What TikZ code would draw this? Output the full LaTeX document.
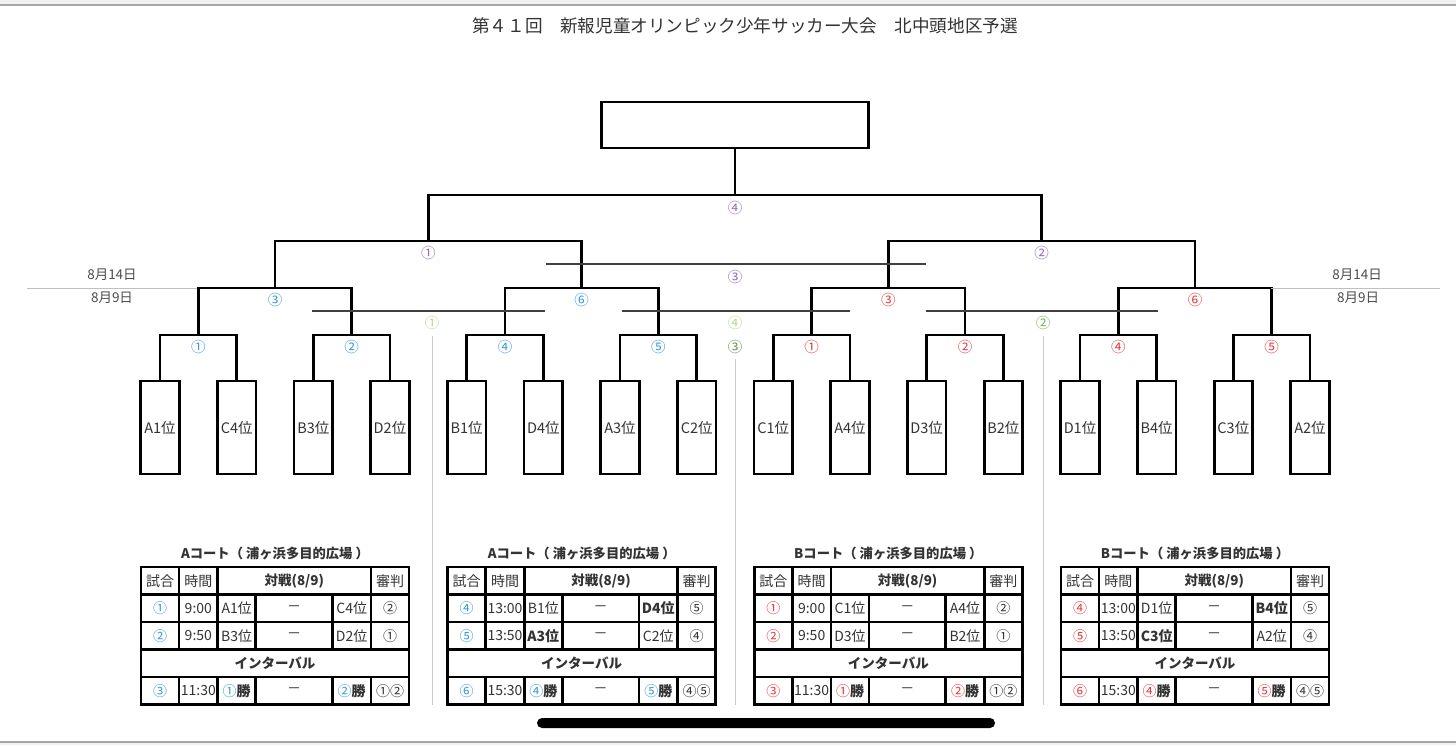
\documentclass[tikz,border=0pt]{standalone}
\usepackage{fontspec}
\setmainfont{Noto Sans CJK JP}
\usetikzlibrary{calc}

\definecolor{courtA}{HTML}{3A9AD9}
\definecolor{courtB}{HTML}{E8383D}
\definecolor{finals}{HTML}{8E6BBF}
\definecolor{placeP}{HTML}{B8D88E}
\definecolor{placeM}{HTML}{7DB356}
\definecolor{placeD}{HTML}{6A9050}
\definecolor{ink}{HTML}{333333}

\def\gap{76.667}

\tikzset{
  bracket/.style={line width=2.8pt, line join=miter},
  teambox/.style={draw, line width=2.8pt, minimum width=38.5pt, minimum height=93pt, inner sep=0pt, text=ink, font=\fontsize{14.5}{15}\selectfont},
  champbox/.style={draw, line width=2.8pt, minimum width=267pt, minimum height=46pt},
  gameno/.style={inner sep=0pt, font=\fontsize{14.5}{15}\selectfont},
  minorline/.style={line width=1.4pt, draw=black!75},
  sepline/.style={line width=0.8pt, draw=black!20},
  dateline/.style={line width=0.9pt, draw=black!25},
  datetext/.style={inner sep=0pt, text=black!70, font=\fontsize{13.5}{14}\selectfont},
  tableline/.style={line width=2.4pt, line cap=rect},
  cell/.style={inner sep=0pt, text=ink, font=\fontsize{14}{14}\selectfont},
  boldcell/.style={cell, font=\bfseries\fontsize{13.5}{14}\selectfont},
  tabletitle/.style={inner sep=0pt, text=ink, font=\bfseries\fontsize{13.3}{14}\selectfont},
}

% grid of one court table, local coordinates
\newcommand{\fixturegrid}{%
  \draw[tableline] (0,567) rectangle (268,704.5);
  \foreach \yy in {594.5,622,649.5,677}
    \draw[tableline] (0,\yy) -- (268,\yy);
  \foreach \xx in {38,76.67,230}
    \draw[tableline] (\xx,567) -- (\xx,649.5) (\xx,677) -- (\xx,704.5);
  \foreach \xx in {114.67,191.33}
    \draw[tableline] (\xx,594.5) -- (\xx,649.5) (\xx,677) -- (\xx,704.5);
}
\newcommand{\fixturehead}[2]{%
  \node[tabletitle] (#1-title) at (134,553) {#2};
  \node[cell] (#1-h1) at (19,580.75) {試合};
  \node[cell] (#1-h2) at (57.33,580.75) {時間};
  \node[boldcell] (#1-h3) at (153.33,580.75) {対戦(8/9)};
  \node[cell] (#1-h4) at (249,580.75) {審判};
  \node[boldcell] (#1-int) at (134,663.25) {インターバル};
}
% prefix, y, colour, game, time, home, away, referee
\newcommand{\gamerow}[8]{%
  \node[cell, text=#3] (#1-no) at (19,#2) {#4};
  \node[cell] (#1-time) at (57.33,#2) {#5};
  \node[cell] (#1-home) at (95.67,#2) {#6};
  \node[cell] (#1-vs) at (153,#2) {－};
  \node[cell] (#1-away) at (210.67,#2) {#7};
  \node[cell] (#1-ref) at (249,#2) {#8};
}

\begin{document}
\begin{tikzpicture}[x=1pt, y=-1pt]
\useasboundingbox (0,0) rectangle (1456,745);
\fill[white] (0,0) rectangle (1456,745);
\fill[black!5] (0,0) rectangle (1456,5);
\fill[black!5] (0,742) rectangle (1456,745);
\draw[black!35, line width=1.2pt] (0,5) -- (1456,5);
\draw[black!35, line width=1.2pt] (0,742) -- (1456,742);

\node[text=ink, font=\fontsize{17.6}{18}\selectfont] (title) at (745,26) {第４１回　新報児童オリンピック少年サッカー大会　北中頭地区予選};

% teams and winner box
\foreach \t [count=\i from 0] in {A1位,C4位,B3位,D2位,B1位,D4位,A3位,C2位,C1位,A4位,D3位,B2位,D1位,B4位,C3位,A2位}
  \node[teambox] (t\i) at ({160+\i*\gap},427.5) {\t};
\node[champbox] (champ) at (735,125) {};

% first round
\foreach \c/\n [count=\j from 0] in {courtA/①,courtA/②,courtA/④,courtA/⑤,courtB/①,courtB/②,courtB/④,courtB/⑤}
{
  \pgfmathtruncatemacro\ia{2*\j}
  \pgfmathtruncatemacro\ib{2*\j+1}
  \coordinate (r1-\j) at ({198.333+2*\gap*\j},335);
  \draw[bracket] (t\ia.north) |- (r1-\j) -| (t\ib.north);
  \node[gameno, text=\c] (g1-\j) at ({198.333+2*\gap*\j},347) {\n};
}

% second round
\foreach \c/\n [count=\k from 0] in {courtA/③,courtA/⑥,courtB/③,courtB/⑥}
{
  \pgfmathtruncatemacro\ia{2*\k}
  \pgfmathtruncatemacro\ib{2*\k+1}
  \coordinate (r2-\k) at ({275+4*\gap*\k},288);
  \draw[bracket] (r1-\ia) |- (r2-\k) -| (r1-\ib);
  \node[gameno, text=\c] (g2-\k) at ({275+4*\gap*\k},299.5) {\n};
}

% semi finals and final
\coordinate (r3-0) at (428.333,241);
\coordinate (r3-1) at (1041.667,241);
\draw[bracket] (r2-0) |- (r3-0) -| (r2-1);
\draw[bracket] (r2-2) |- (r3-1) -| (r2-3);
\node[gameno, text=finals] (g3-0) at (428.333,253) {①};
\node[gameno, text=finals] (g3-1) at (1041.667,253) {②};
\coordinate (r4) at (735,195);
\draw[bracket] (r3-0) |- (r4) -| (r3-1);
\draw[bracket] (r4) -- (champ.south);
\node[gameno, text=finals] (g4) at (735,208) {④};

% third place and placement games
\coordinate (third-a) at (546,264);
\coordinate (third-b) at (926,264);
\draw[minorline] (third-a) -- (third-b);
\node[gameno, text=finals] (g-third) at (735,277) {③};
\coordinate (pl1-a) at (312,311);
\coordinate (pl1-b) at (545,311);
\coordinate (pl2-a) at (622,311);
\coordinate (pl2-b) at (850,311);
\coordinate (pl3-a) at (926,311);
\coordinate (pl3-b) at (1158,311);
\draw[minorline] (pl1-a) -- (pl1-b);
\draw[minorline] (pl2-a) -- (pl2-b);
\draw[minorline] (pl3-a) -- (pl3-b);
\node[gameno, text=placeP] (pl-1) at (432,323) {①};
\node[gameno, text=placeP] (pl-4) at (735,323) {④};
\node[gameno, text=placeM] (pl-2) at (1043,323) {②};
\node[gameno, text=placeD] (pl-3) at (735,347) {③};

% separators
\draw[sepline] (432,336) -- (432,705);
\draw[sepline] (735,359) -- (735,705);
\draw[sepline] (1043,336) -- (1043,705);

% dates
\draw[dateline] (27,288) -- (r2-0 -| 197,0);
\draw[dateline] (1271,288) -- (1440,288);
\node[datetext] (d14-l) at (112,275) {8月14日};
\node[datetext] (d9-l) at (112,298) {8月9日};
\node[datetext] (d14-r) at (1357,275) {8月14日};
\node[datetext] (d9-r) at (1358,298) {8月9日};

% court tables
\begin{scope}[xshift=141pt]
  \fixturegrid
  \fixturehead{ta}{Aコート（ 浦ヶ浜多目的広場 ）}
  \gamerow{ta1}{608.25}{courtA}{①}{9:00}{A1位}{C4位}{②}
  \gamerow{ta2}{635.75}{courtA}{②}{9:50}{B3位}{D2位}{①}
  \gamerow{ta3}{690.75}{courtA}{③}{11:30}{\textcolor{courtA}{①}\textbf{勝}}{\textcolor{courtA}{②}\textbf{勝}}{①②}
\end{scope}
\begin{scope}[xshift=447.667pt]
  \fixturegrid
  \fixturehead{tb}{Aコート（ 浦ヶ浜多目的広場 ）}
  \gamerow{tb1}{608.25}{courtA}{④}{13:00}{B1位}{\textbf{D4位}}{⑤}
  \gamerow{tb2}{635.75}{courtA}{⑤}{13:50}{\textbf{A3位}}{C2位}{④}
  \gamerow{tb3}{690.75}{courtA}{⑥}{15:30}{\textcolor{courtA}{④}\textbf{勝}}{\textcolor{courtA}{⑤}\textbf{勝}}{④⑤}
\end{scope}
\begin{scope}[xshift=754.333pt]
  \fixturegrid
  \fixturehead{tc}{Bコート（ 浦ヶ浜多目的広場 ）}
  \gamerow{tc1}{608.25}{courtB}{①}{9:00}{C1位}{A4位}{②}
  \gamerow{tc2}{635.75}{courtB}{②}{9:50}{D3位}{B2位}{①}
  \gamerow{tc3}{690.75}{courtB}{③}{11:30}{\textcolor{courtB}{①}\textbf{勝}}{\textcolor{courtB}{②}\textbf{勝}}{①②}
\end{scope}
\begin{scope}[xshift=1061pt]
  \fixturegrid
  \fixturehead{td}{Bコート（ 浦ヶ浜多目的広場 ）}
  \gamerow{td1}{608.25}{courtB}{④}{13:00}{D1位}{\textbf{B4位}}{⑤}
  \gamerow{td2}{635.75}{courtB}{⑤}{13:50}{\textbf{C3位}}{A2位}{④}
  \gamerow{td3}{690.75}{courtB}{⑥}{15:30}{\textcolor{courtB}{④}\textbf{勝}}{\textcolor{courtB}{⑤}\textbf{勝}}{④⑤}
\end{scope}

\fill[black, rounded corners=5pt] (537,718) rectangle (995,728);
\end{tikzpicture}
\end{document}
